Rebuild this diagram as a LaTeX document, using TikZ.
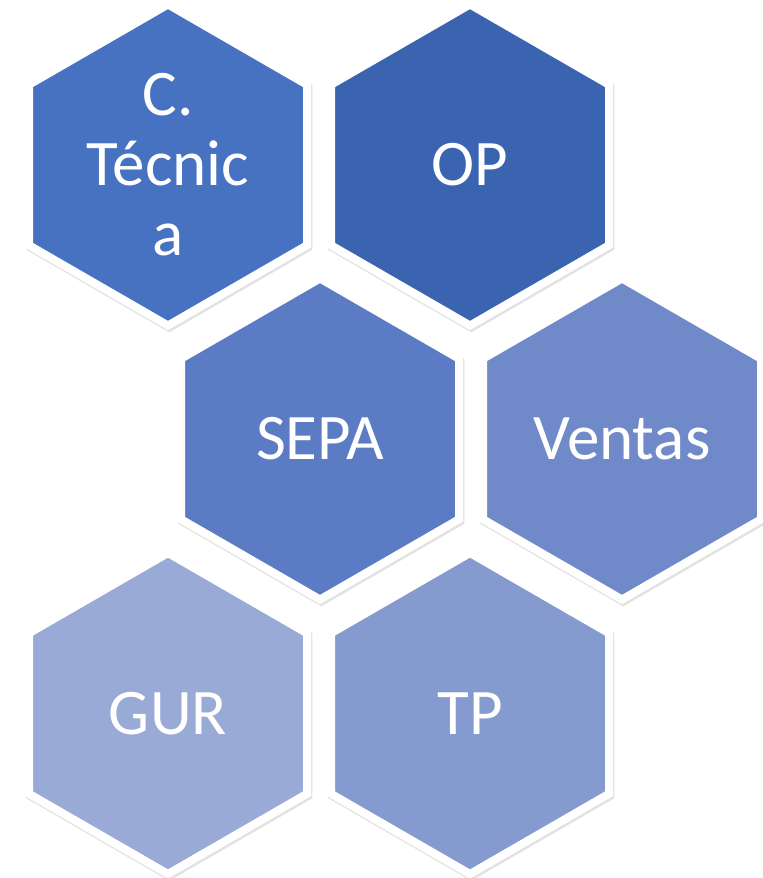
\documentclass[tikz,border=0pt]{standalone}
\usepackage{fontspec}
\setmainfont{Carlito}
\usetikzlibrary{shapes.geometric,shadows}
\definecolor{hexA}{HTML}{4672C1}
\definecolor{hexB}{HTML}{3A64B0}
\definecolor{hexC}{HTML}{5B7CC4}
\definecolor{hexD}{HTML}{7089C8}
\definecolor{hexE}{HTML}{9AAAD6}
\definecolor{hexF}{HTML}{859BD0}
\tikzstyle{hexa} = [regular polygon, regular polygon sides=6, shape border rotate=30, minimum size=160.5pt, inner sep=0pt, draw=white, line width=4pt, text=white, align=center, font=\fontsize{32.5}{35}\selectfont, drop shadow={shadow xshift=0.6pt, shadow yshift=-1pt, shadow scale=1.03, opacity=0.25, fill=black!45}]

\begin{document}
\begin{tikzpicture}[x=0.5pt, y=-0.5pt]
            \useasboundingbox (0,0) rectangle (763,878);

            \node (tec) [hexa, fill=hexA] at (168,165) {C.\\Técnic\\a};
            \node (op) [hexa, fill=hexB] at (470,165) {OP};
            \node (sepa) [hexa, fill=hexC] at (320,439) {SEPA};
            \node (ventas) [hexa, fill=hexD] at (622,439) {Ventas};
            \node (gur) [hexa, fill=hexE] at (168,713.5) {GUR};
            \node (tp) [hexa, fill=hexF] at (470,713.5) {TP};
        \end{tikzpicture}
\end{document}
